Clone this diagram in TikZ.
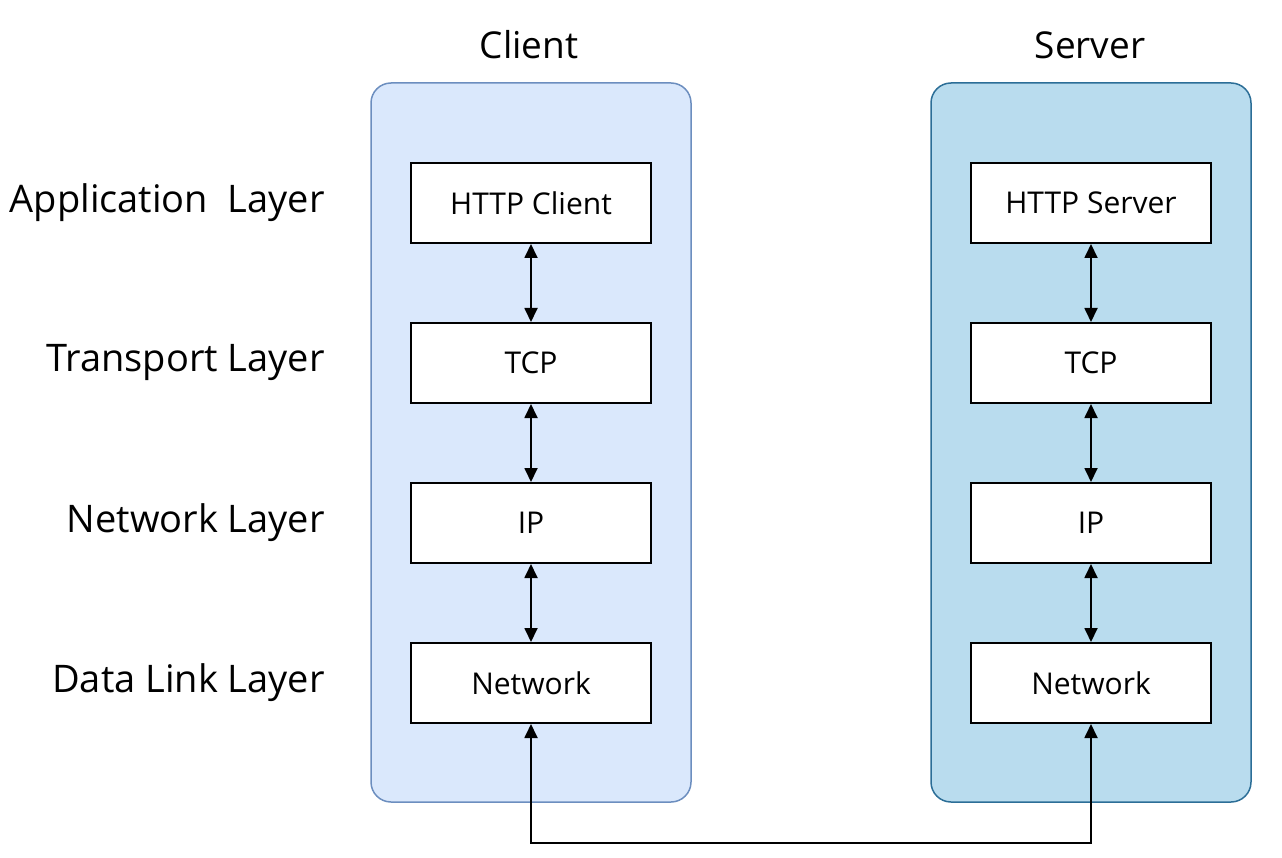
\documentclass[tikz,border=0pt]{standalone}
\usepackage{fontspec}
\setmainfont{Open Sans}
\usetikzlibrary{positioning,arrows.meta}
\definecolor{clientfill}{HTML}{DAE8FC}
\definecolor{clientline}{HTML}{6C8EBF}
\definecolor{serverfill}{HTML}{B9DCEE}
\definecolor{serverline}{HTML}{2C6E97}

\begin{document}
\begin{tikzpicture}[x=1pt,y=1pt,
  hostbox/.style={rounded corners=20pt,line width=1.5pt,minimum width=320pt,minimum height=719pt,inner sep=0pt},
  stackbox/.style={draw=black,line width=2pt,fill=white,minimum width=240pt,minimum height=80pt,inner sep=0pt,font=\fontsize{30}{36}\selectfont},
  layername/.style={anchor=east,inner sep=0pt,font=\fontsize{38}{44}\selectfont},
  hosttitle/.style={inner sep=0pt,font=\fontsize{37}{44}\selectfont},
  link/.style={line width=1.8pt,{Triangle[length=14pt,width=13pt]}-{Triangle[length=14pt,width=13pt]}}]
\useasboundingbox (0,0) rectangle (1282,-858);
% the two hosts
\node [hostbox,fill=clientfill,draw=clientline] (client) at (531,-442.5) {};
\node [hostbox,fill=serverfill,draw=serverline] (server) at (1091,-442.5) {};
\node [hosttitle] (clienttitle) at (529,-45) {Client};
\node [hosttitle] (servertitle) at (1090,-45) {Server};
% protocol stacks
\foreach \i/\y/\layer/\ctext/\stext in {1/203/Application\ \ Layer/HTTP Client/HTTP Server,
    2/363/Transport Layer/TCP/TCP,
    3/523/Network Layer/IP/IP,
    4/683/Data Link Layer/Network/Network}
{
  \node [layername] (l\i) at (325,-\y) {\layer};
  \node [stackbox] (c\i) at (531,-\y) {\ctext};
  \node [stackbox] (s\i) at (1091,-\y) {\stext};
}
\foreach \i/\j in {1/2,2/3,3/4}
{
  \draw [link] (c\i) -- (c\j);
  \draw [link] (s\i) -- (s\j);
}
% wire between the hosts
\coordinate (wireleft) at (531,-843);
\coordinate (wireright) at (1091,-843);
\draw [link] (c4) -- (wireleft) -- (wireright) -- (s4);
\end{tikzpicture}
\end{document}
